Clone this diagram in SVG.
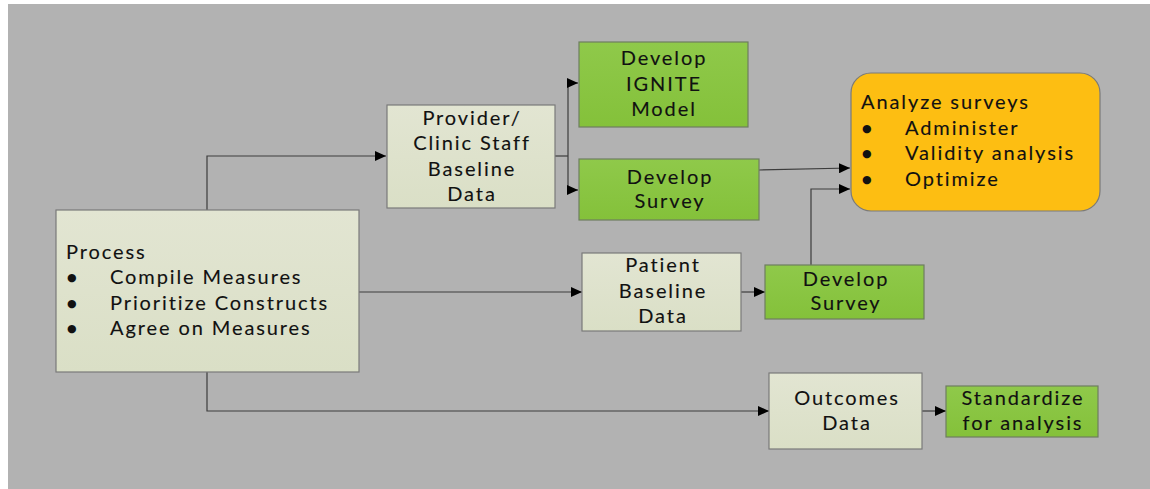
<svg xmlns="http://www.w3.org/2000/svg" width="1150" height="489" viewBox="0 0 1150 489">
  <defs>
    <linearGradient id="lightFill" x1="0" y1="0" x2="0" y2="1">
      <stop offset="0" stop-color="#E2E5D2"/>
      <stop offset="1" stop-color="#DADFC6"/>
    </linearGradient>
    <linearGradient id="greenFill" x1="0" y1="0" x2="0" y2="1">
      <stop offset="0" stop-color="#8FC94A"/>
      <stop offset="1" stop-color="#84C13A"/>
    </linearGradient>
    <marker id="arrow" markerUnits="userSpaceOnUse" markerWidth="12" markerHeight="10" refX="11" refY="5" orient="auto">
      <path d="M0,0 L11,5 L0,10 Z" fill="#000"/>
    </marker>
    <style>
      .light { fill: url(#lightFill); stroke: #7A7A7A; stroke-width: 1.2; }
      .green { fill: url(#greenFill); stroke: #6E7E60; stroke-width: 1.2; }
      .orange { fill: #FDBE12; stroke: #7A7A7A; stroke-width: 1.2; }
      text { font-family: Lato, "Open Sans", sans-serif; font-size: 20px; letter-spacing: 1.9px; fill: #111; stroke: #111; stroke-width: 0.12px; }
      .c { text-anchor: middle; }
      .bul { font-family: "DejaVu Sans", sans-serif; font-size: 11px; letter-spacing: 0; stroke: none; }
      .conn { fill: none; stroke: #3C3C3C; stroke-width: 1.2; }
    </style>
  </defs>

  <rect x="0" y="0" width="1150" height="489" fill="#FFFFFF"/>
  <rect x="8" y="4" width="1142" height="485" fill="#B2B2B2"/>

  <g id="connectors">
    <path class="conn" d="M207,210 V156 H386" marker-end="url(#arrow)"/>
    <path class="conn" d="M555,156 H568"/>
    <path class="conn" d="M568,83 V190"/>
    <path class="conn" d="M568,83 H578" marker-end="url(#arrow)"/>
    <path class="conn" d="M568,190 H578" marker-end="url(#arrow)"/>
    <path class="conn" d="M759,170 L850,168" marker-end="url(#arrow)"/>
    <path class="conn" d="M811,265 V189 H850" marker-end="url(#arrow)"/>
    <path class="conn" d="M359,292 H582" marker-end="url(#arrow)"/>
    <path class="conn" d="M741,292 H765" marker-end="url(#arrow)"/>
    <path class="conn" d="M207,372 V411 H769" marker-end="url(#arrow)"/>
    <path class="conn" d="M922,411 H946" marker-end="url(#arrow)"/>
  </g>

  <g id="process">
    <rect class="light" x="56" y="210" width="303" height="162"/>
    <text x="66" y="259">Process</text>
    <text class="bul" x="67" y="281">●</text>
    <text x="110" y="284">Compile Measures</text>
    <text class="bul" x="67" y="307">●</text>
    <text x="110" y="310">Prioritize Constructs</text>
    <text class="bul" x="67" y="332">●</text>
    <text x="110" y="335">Agree on Measures</text>
  </g>

  <g id="provider">
    <rect class="light" x="387" y="105" width="168" height="103"/>
    <text class="c" x="472" y="125">Provider/</text>
    <text class="c" x="472" y="150">Clinic Staff</text>
    <text class="c" x="472" y="176">Baseline</text>
    <text class="c" x="472" y="201">Data</text>
  </g>

  <g id="develop-ignite">
    <rect class="green" x="579" y="42" width="169" height="85"/>
    <text class="c" x="664" y="65">Develop</text>
    <text class="c" x="664" y="91">IGNITE</text>
    <text class="c" x="664" y="116">Model</text>
  </g>

  <g id="develop-survey-1">
    <rect class="green" x="579" y="159" width="180" height="61"/>
    <text class="c" x="670" y="184">Develop</text>
    <text class="c" x="670" y="208">Survey</text>
  </g>

  <g id="analyze">
    <rect class="orange" x="851" y="73" width="249" height="138" rx="20" ry="20"/>
    <text x="861" y="109">Analyze surveys</text>
    <text class="bul" x="862" y="132">●</text>
    <text x="905" y="135">Administer</text>
    <text class="bul" x="862" y="157">●</text>
    <text x="905" y="160">Validity analysis</text>
    <text class="bul" x="862" y="183">●</text>
    <text x="905" y="186">Optimize</text>
  </g>

  <g id="patient">
    <rect class="light" x="582" y="253" width="159" height="78"/>
    <text class="c" x="663" y="272">Patient</text>
    <text class="c" x="663" y="298">Baseline</text>
    <text class="c" x="663" y="323">Data</text>
  </g>

  <g id="develop-survey-2">
    <rect class="green" x="765" y="265" width="159" height="54"/>
    <text class="c" x="846" y="286">Develop</text>
    <text class="c" x="846" y="310">Survey</text>
  </g>

  <g id="outcomes">
    <rect class="light" x="769" y="373" width="153" height="76"/>
    <text class="c" x="847" y="405">Outcomes</text>
    <text class="c" x="847" y="430">Data</text>
  </g>

  <g id="standardize">
    <rect class="green" x="946" y="386" width="152" height="51"/>
    <text class="c" x="1023" y="405">Standardize</text>
    <text class="c" x="1023" y="430">for analysis</text>
  </g>
</svg>
